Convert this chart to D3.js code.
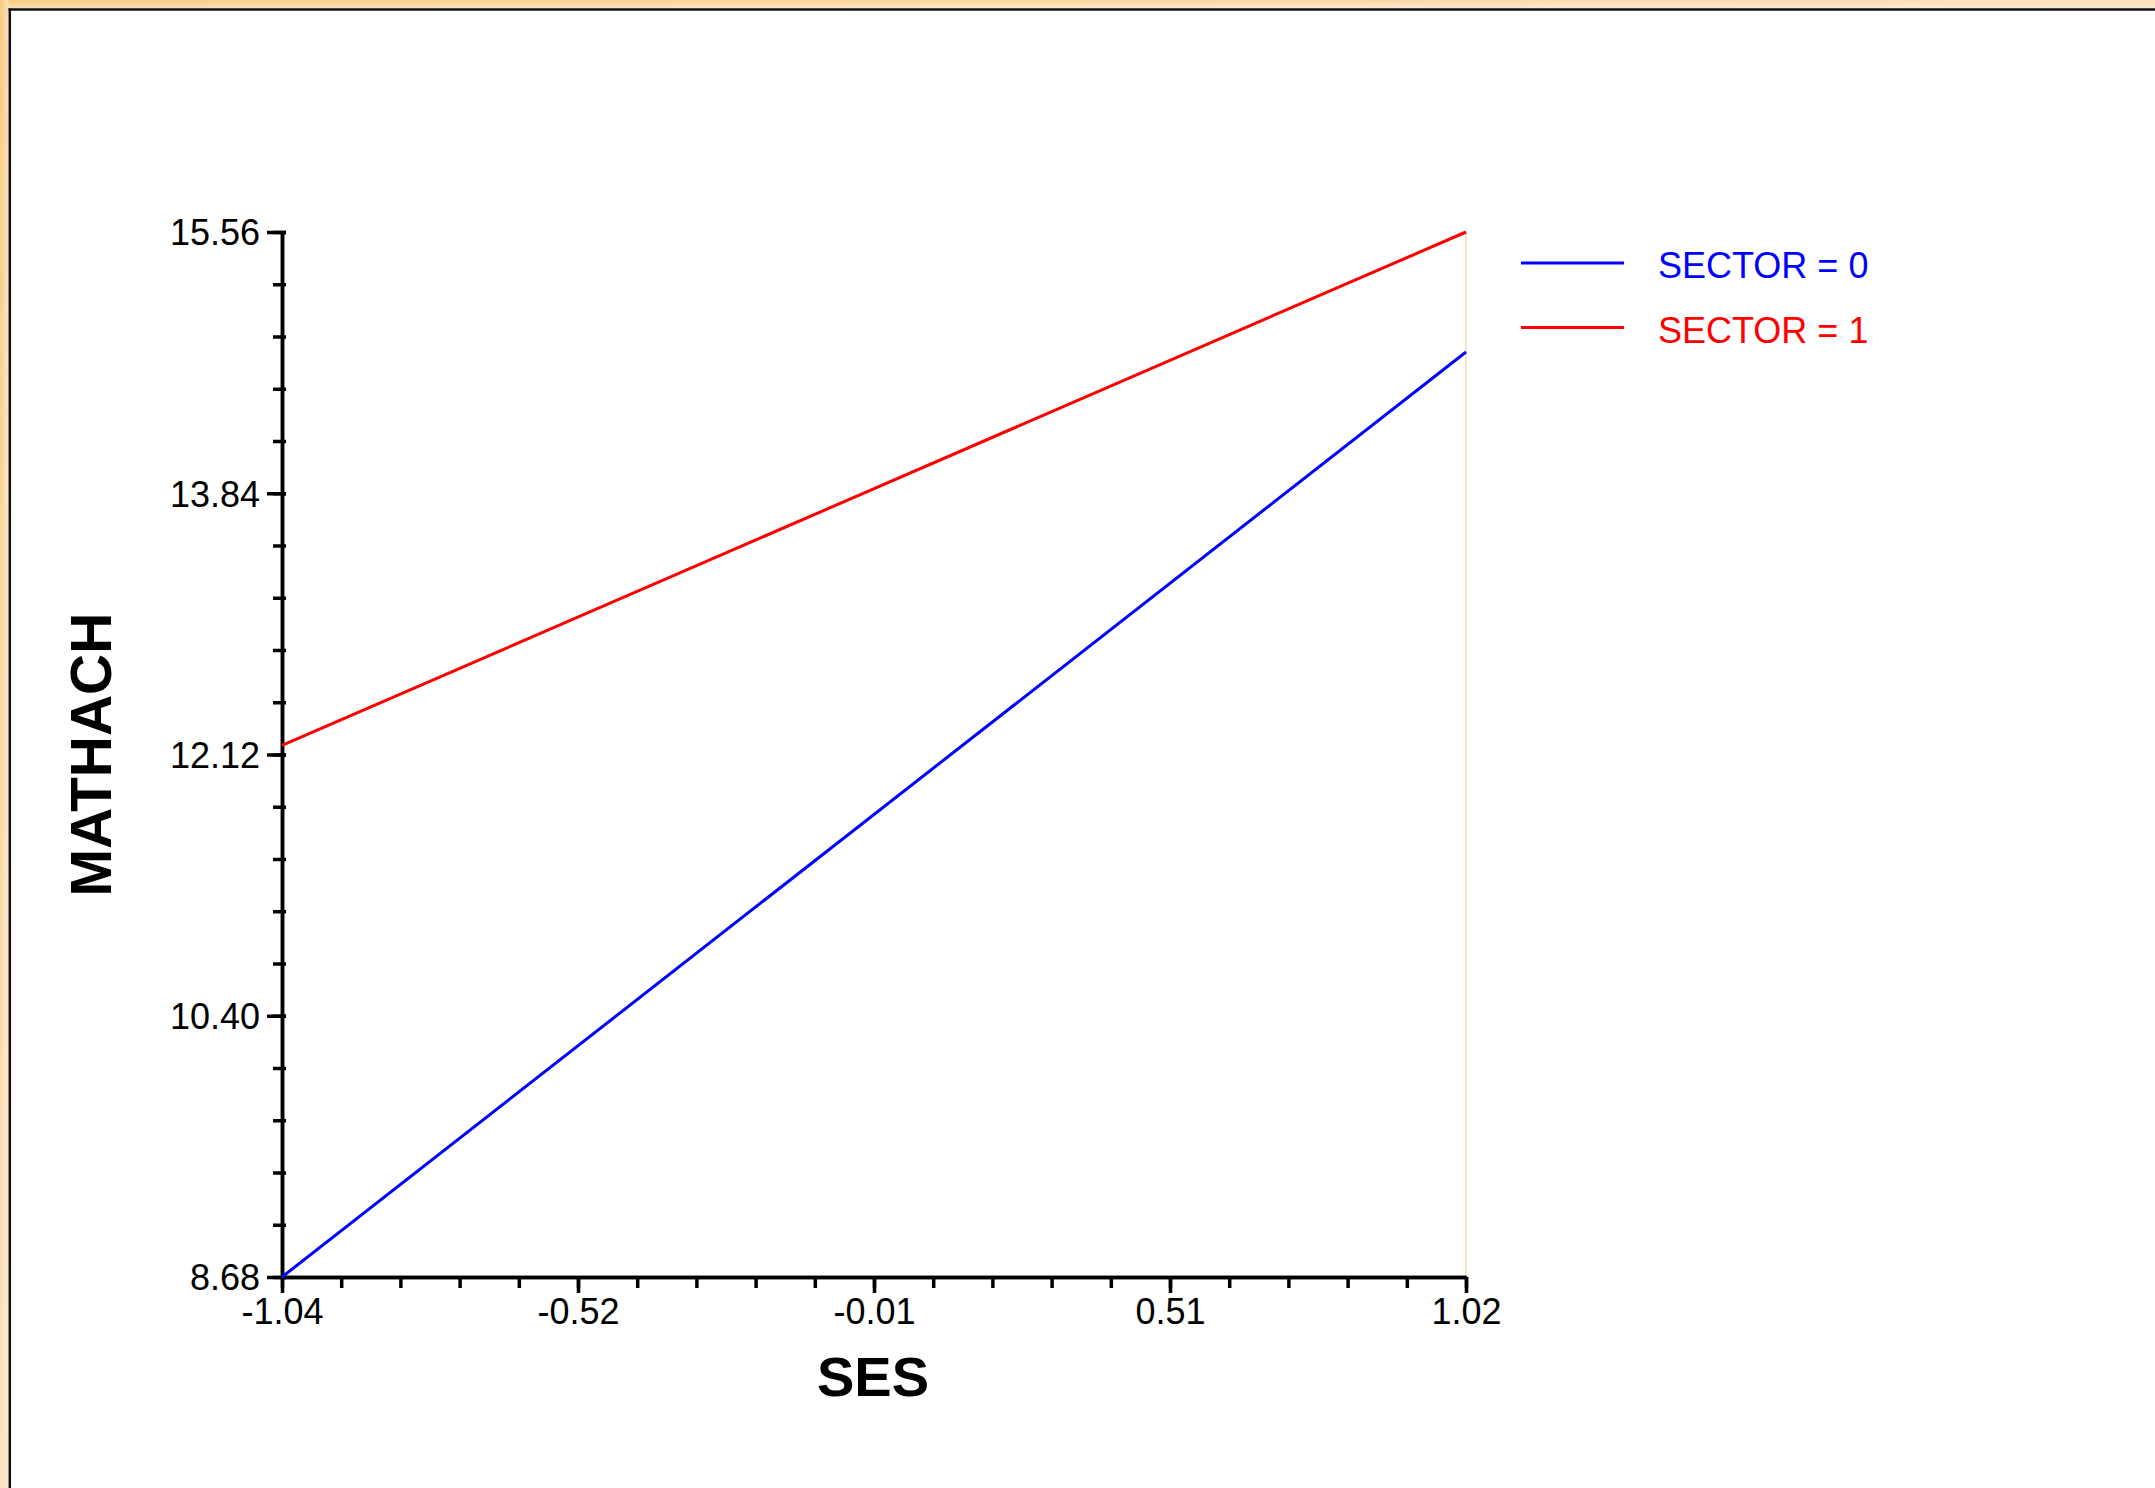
<!DOCTYPE html>
<html>
<head>
<meta charset="utf-8">
<script src="https://cdn.jsdelivr.net/npm/d3@7"></script>
<style>
  html, body { margin: 0; padding: 0; background: #fff; }
  svg { display: block; font-family: "Liberation Sans", Arial, sans-serif; }
</style>
</head>
<body>
<div id="chart"></div>
<script>
// data
const sesLabels = ["-1.04", "-0.52", "-0.01", "0.51", "1.02"];
const mathLabels = ["8.68", "10.40", "12.12", "13.84", "15.56"];
const sectorNames = ["SECTOR = 0", "SECTOR = 1"];
const sectorColors = ["#0000ff", "#ff0000"];
const sesEnds = [-1.04, 1.02];
const sector0 = [8.68, 14.77];
const sector1 = [12.18, 15.56];

const width = 2155;
const height = 1488;

const svg = d3.select('#chart')
  .append('svg')
    .attr('width', width)
    .attr('height', height);

// orange frame on top and left
const defs = svg.append('defs');
const grad = defs.append('linearGradient')
    .attr('id', 'frame')
    .attr('x1', '0%').attr('y1', '0%')
    .attr('x2', '100%').attr('y2', '100%');
grad.append('stop').attr('offset', '0%').attr('stop-color', '#f8ca7f');
grad.append('stop').attr('offset', '60%').attr('stop-color', '#fce3c2');
grad.append('stop').attr('offset', '100%').attr('stop-color', '#fde9d0');

svg.append('rect').attr('x', 0).attr('y', 0).attr('width', width).attr('height', 8.5).attr('fill', 'url(#frame)');
svg.append('rect').attr('x', 0).attr('y', 0).attr('width', 8.5).attr('height', height).attr('fill', 'url(#frame)');
svg.append('line').attr('x1', 8.5).attr('y1', 9.5).attr('x2', width).attr('y2', 9.5).attr('stroke', '#111').attr('stroke-width', 2.5);
svg.append('line').attr('x1', 9.8).attr('y1', 8.5).attr('x2', 9.8).attr('y2', height).attr('stroke', '#111').attr('stroke-width', 2.5);

// scales
const x = d3.scaleLinear().domain([-1.04, 1.02]).range([282, 1466]);
const y = d3.scaleLinear().domain([8.68, 15.56]).range([1277, 232]);

const xMajor = sesLabels.map((d, i) => -1.04 + i * 0.515);
const xMinor = d3.range(21).map(i => -1.04 + i * 0.103);
const yMajor = mathLabels.map(d => +d);
const yMinor = d3.range(21).map(i => 8.68 + i * 0.344);

// faint line at the right end of the plot
svg.append('line')
    .attr('x1', x(1.02)).attr('x2', x(1.02))
    .attr('y1', y(15.56)).attr('y2', y(8.68))
    .attr('stroke', '#fde3c0')
    .attr('stroke-width', 2);

// x axis
const xAxis = svg.append('g').attr('transform', `translate(0,${y(8.68)})`);
xAxis.call(d3.axisBottom(x).tickValues(xMinor).tickSize(11).tickSizeOuter(0).tickFormat(''));
xAxis.append('g').call(d3.axisBottom(x).tickValues(xMajor).tickSize(16).tickSizeOuter(0)
    .tickFormat((d, i) => sesLabels[i]));
xAxis.selectAll('.domain').attr('stroke', '#000').attr('stroke-width', 3.5);
xAxis.selectAll('line').attr('stroke', '#000').attr('stroke-width', 3.5);
xAxis.selectAll('text')
    .attr('y', 47).attr('dy', 0)
    .attr('fill', '#000')
    .style('font-size', '36px')
    .style('font-family', '"Liberation Sans", Arial, sans-serif');

// y axis
const yAxis = svg.append('g').attr('transform', `translate(${x(-1.04)},0)`);
yAxis.call(d3.axisLeft(y).tickValues(yMinor).tickSize(9).tickSizeOuter(0).tickFormat(''));
yAxis.append('g').call(d3.axisLeft(y).tickValues(yMajor).tickSize(15).tickSizeOuter(0)
    .tickFormat((d, i) => mathLabels[i]));
yAxis.selectAll('.domain').attr('stroke', '#000').attr('stroke-width', 3.5);
yAxis.selectAll('line').attr('stroke', '#000').attr('stroke-width', 3.5);
// ticks poke out to the right of the y axis as well
yAxis.selectAll('.tick line').attr('x1', 4);
yAxis.selectAll('text')
    .attr('x', -22).attr('dy', '0.36em')
    .attr('fill', '#000')
    .style('font-size', '36px')
    .style('font-family', '"Liberation Sans", Arial, sans-serif');

// lines
const series = [sector0, sector1];
const line = d3.line()
    .x((d, i) => x(sesEnds[i]))
    .y(d => y(d));

svg.selectAll('.series')
  .data(series)
  .join('path')
    .attr('class', 'series')
    .attr('d', d => line(d))
    .attr('fill', 'none')
    .attr('stroke', (d, i) => sectorColors[i])
    .attr('stroke-width', 3);

// legend
const legend = svg.selectAll('.legend')
  .data(sectorNames)
  .join('g')
    .attr('class', 'legend')
    .attr('transform', (d, i) => `translate(1521,${263 + i * 64.5})`);
legend.append('line')
    .attr('x1', 0).attr('x2', 103)
    .attr('stroke', (d, i) => sectorColors[i])
    .attr('stroke-width', 3);
legend.append('text')
    .attr('x', 137)
    .attr('y', 15)
    .attr('fill', (d, i) => sectorColors[i])
    .style('font-size', '36px')
    .text(d => d);

// axis titles
svg.append('text')
    .attr('x', 873)
    .attr('y', 1396)
    .attr('text-anchor', 'middle')
    .style('font-size', '56px')
    .style('font-weight', 'bold')
    .text('SES');

svg.append('text')
    .attr('transform', `translate(111,${(y(8.68) + y(15.56)) / 2}) rotate(-90)`)
    .attr('text-anchor', 'middle')
    .style('font-size', '57px')
    .style('font-weight', 'bold')
    .text('MATHACH');
</script>
</body>
</html>
